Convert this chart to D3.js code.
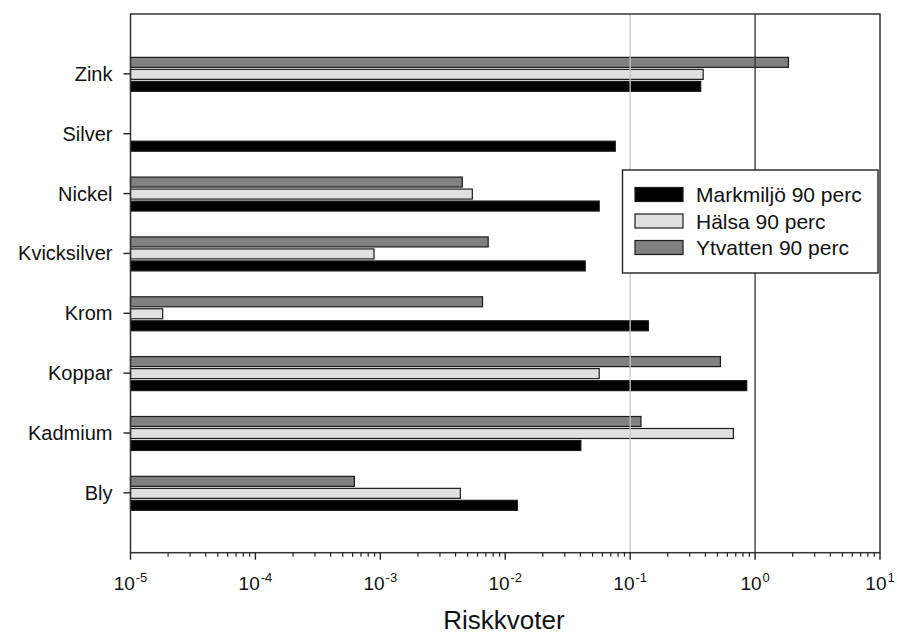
<!DOCTYPE html>
<html>
<head>
<meta charset="utf-8">
<script src="https://cdn.jsdelivr.net/npm/d3@7"></script>
<style>
  body { margin: 0; background: #fff; }
  svg { display: block; font-family: "Liberation Sans", Arial, sans-serif; }
</style>
</head>
<body>
<svg id="chart" width="897" height="636"></svg>
<script>
// ---- data ----
const categories = ["Bly", "Kadmium", "Koppar", "Krom", "Kvicksilver", "Nickel", "Silver", "Zink"];
const markmiljo = [0.0125, 0.0403, 0.857, 0.14, 0.0437, 0.0565, 0.076, 0.367];
const halsa     = [0.00437, 0.67, 0.0565, 0.0000181, 0.00089, 0.00545, null, 0.384];
const ytvatten  = [0.00062, 0.122, 0.528, 0.00658, 0.0073, 0.00453, null, 1.85];
const seriesNames = ["Markmiljö 90 perc", "Hälsa 90 perc", "Ytvatten 90 perc"];
const xTickExps = [-5, -4, -3, -2, -1, 0, 1];
const xTitle = "Riskkvoter";
const refLines = [0.1, 1];

// ---- layout ----
const svg = d3.select("#chart");
const L = 130.5, R = 880, T = 14, B = 552.7;
const x = d3.scaleLog().domain([1e-5, 10]).range([L, R]);
const y = d3.scaleLinear().domain([0, 9]).range([B, T]);

const series = [
  { name: seriesNames[2], values: ytvatten, fill: "#808080", off: -12 },
  { name: seriesNames[1], values: halsa, fill: "#e0e0e0", off: 0 },
  { name: seriesNames[0], values: markmiljo, fill: "#000000", off: 12 }
];
const barH = 10;

// bars
series.forEach(s => {
  svg.append("g").selectAll("rect")
    .data(categories.map((c, i) => ({ i, v: s.values[i] })).filter(d => d.v != null))
    .join("rect")
    .attr("x", x(1e-5))
    .attr("y", d => y(d.i + 1) + 0.5 + s.off - barH / 2)
    .attr("width", d => x(d.v) - x(1e-5))
    .attr("height", barH)
    .attr("fill", s.fill)
    .attr("stroke", "#1a1a1a")
    .attr("stroke-width", 1.2);
});

// reference lines
svg.append("line").attr("x1", x(refLines[0])).attr("x2", x(refLines[0]))
  .attr("y1", T).attr("y2", B).attr("stroke", "#c4c4c4").attr("stroke-width", 1.3);
svg.append("line").attr("x1", x(refLines[1])).attr("x2", x(refLines[1]))
  .attr("y1", T).attr("y2", B).attr("stroke", "#333").attr("stroke-width", 1.3);

// frame
svg.append("rect").attr("x", L).attr("y", T).attr("width", R - L).attr("height", B - T)
  .attr("fill", "none").attr("stroke", "#333").attr("stroke-width", 1.5);

// x axis ticks (major + minor)
const xg = svg.append("g");
const minor = [];
for (let e = -5; e < 1; e++) for (let m = 2; m <= 9; m++) minor.push(m * Math.pow(10, e));
xg.selectAll("line.minor").data(minor).join("line")
  .attr("x1", d => x(d)).attr("x2", d => x(d))
  .attr("y1", B).attr("y2", B + 4).attr("stroke", "#222").attr("stroke-width", 1.2);
xg.selectAll("line.major").data(xTickExps).join("line")
  .attr("x1", d => x(Math.pow(10, d))).attr("x2", d => x(Math.pow(10, d)))
  .attr("y1", B).attr("y2", B + 7).attr("stroke", "#222").attr("stroke-width", 1.4);
const lbl = xg.selectAll("text").data(xTickExps).join("text")
  .attr("x", d => x(Math.pow(10, d)))
  .attr("y", 590)
  .attr("text-anchor", "middle")
  .attr("fill", "#111")
  .style("font-size", "19px");
lbl.append("tspan").text("10");
lbl.append("tspan").attr("dy", -8).attr("dx", 1).style("font-size", "13px").text(d => String(d));

svg.append("text").attr("x", 504).attr("y", 629).attr("text-anchor", "middle")
  .attr("fill", "#111").style("font-size", "26px").text(xTitle);

// y axis ticks & labels
const yg = svg.append("g");
yg.selectAll("line").data(categories).join("line")
  .attr("x1", L - 7).attr("x2", L)
  .attr("y1", (d, i) => y(i + 1)).attr("y2", (d, i) => y(i + 1))
  .attr("stroke", "#222").attr("stroke-width", 1.4);
yg.selectAll("text").data(categories).join("text")
  .attr("x", L - 18).attr("y", (d, i) => y(i + 1) + 7)
  .attr("text-anchor", "end").attr("fill", "#111")
  .style("font-size", "20px").text(d => d);

// legend
const lg = svg.append("g");
lg.append("rect").attr("x", 622.5).attr("y", 170).attr("width", 255.5).attr("height", 103)
  .attr("fill", "#fff").attr("stroke", "#222").attr("stroke-width", 1.4);
const legItems = [series[2], series[1], series[0]];
legItems.forEach((s, k) => {
  const yy = 187.5 + k * 26.5;
  lg.append("rect").attr("x", 635).attr("y", yy).attr("width", 48).attr("height", 14)
    .attr("fill", s.fill).attr("stroke", "#1a1a1a").attr("stroke-width", 1.2);
  lg.append("text").attr("x", 696).attr("y", yy + 14.5).attr("fill", "#111")
    .style("font-size", "21px").text(s.name);
});
</script>
</body>
</html>
